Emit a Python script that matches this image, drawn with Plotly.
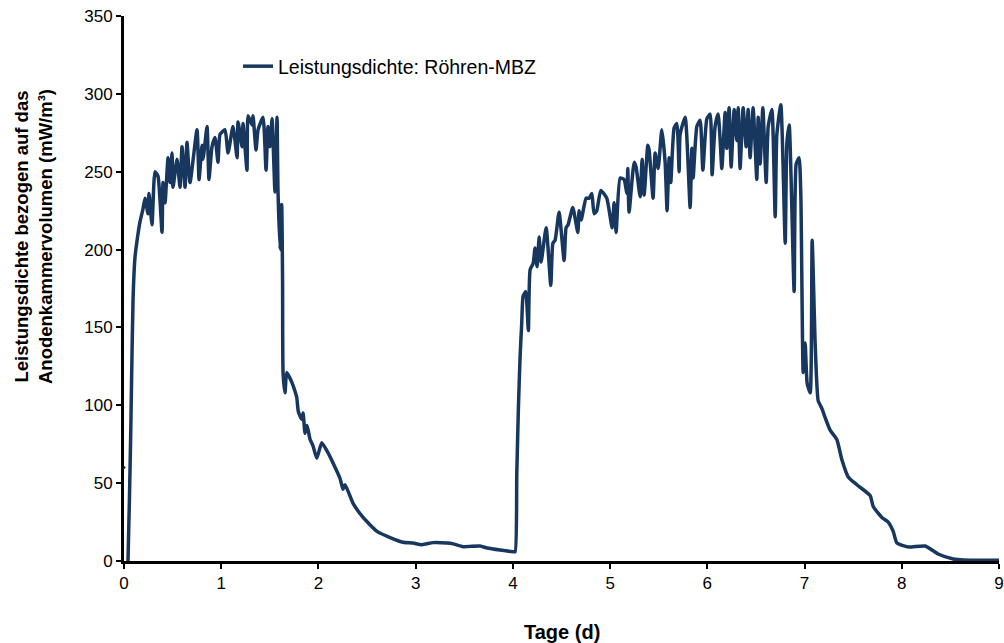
import plotly.graph_objects as go

# Data (days, power density mW/m^3)
start_day = [0.0]
start_val = [60]

days = [0.041, 0.056, 0.068, 0.078, 0.093, 0.113, 0.144, 0.165, 0.195, 0.216, 0.247, 0.257, 0.288,
        0.319, 0.350, 0.391, 0.401, 0.422, 0.453, 0.473, 0.494, 0.504, 0.545, 0.576, 0.597,
        0.628, 0.648, 0.679, 0.751, 0.772, 0.802, 0.813, 0.854, 0.874, 0.905, 0.936, 0.967,
        0.988, 1.039, 1.070, 1.121, 1.163, 1.173, 1.214, 1.224, 1.265, 1.276, 1.317, 1.327,
        1.358, 1.379, 1.430, 1.461, 1.481, 1.502, 1.523, 1.553, 1.574, 1.584, 1.605, 1.622,
        1.631, 1.636, 1.656, 1.674, 1.725, 1.759, 1.777, 1.793, 1.828, 1.842, 1.862, 1.883,
        1.914, 1.944, 1.983, 2.034, 2.085, 2.150, 2.222, 2.253, 2.274, 2.356, 2.459, 2.603,
        2.737, 2.870, 2.973, 3.066, 3.179, 3.323, 3.385, 3.488, 3.663, 3.735, 3.868, 4.002,
        4.023, 4.040, 4.057, 4.074, 4.091, 4.105, 4.132, 4.159, 4.177, 4.208, 4.228, 4.249,
        4.270, 4.290, 4.342, 4.390, 4.411, 4.434, 4.475, 4.527, 4.547, 4.568, 4.616, 4.668,
        4.681, 4.702, 4.753, 4.784, 4.812, 4.835, 4.863, 4.904, 4.966, 5.021, 5.041, 5.062,
        5.103, 5.144, 5.172, 5.182, 5.195, 5.247, 5.267, 5.309, 5.329, 5.350, 5.388, 5.401,
        5.442, 5.463, 5.494, 5.532, 5.566, 5.586, 5.607, 5.624, 5.658, 5.686, 5.710, 5.720,
        5.772, 5.823, 5.841, 5.854, 5.892, 5.926, 5.954, 5.995, 6.029, 6.049, 6.080, 6.111,
        6.132, 6.149, 6.183, 6.200, 6.224, 6.245, 6.276, 6.303, 6.317, 6.337, 6.368, 6.399,
        6.420, 6.440, 6.471, 6.509, 6.523, 6.543, 6.571, 6.605, 6.626, 6.664, 6.698, 6.715,
        6.756, 6.801, 6.818, 6.842, 6.893, 6.914, 6.944, 6.962, 6.986, 7.006, 7.027, 7.058,
        7.078, 7.109, 7.140, 7.178, 7.212, 7.263, 7.332, 7.384, 7.449, 7.538, 7.675, 7.706,
        7.795, 7.860, 7.912, 7.950, 8.066, 8.241, 8.374, 8.529, 8.632, 9.0]

power = [0, 40, 78, 116, 168, 195, 210, 218, 226, 233, 223, 236, 216,
         250, 247, 211, 243, 230, 259, 243, 262, 240, 258, 240, 266,
         240, 269, 243, 277, 245, 267, 258, 279, 245, 266, 272, 256,
         274, 277, 262, 279, 259, 282, 266, 281, 251, 286, 280, 286,
         264, 277, 285, 251, 279, 266, 284, 237, 285, 238, 200, 229,
         180, 121, 108, 121, 115, 109, 105, 96, 91, 95, 82, 87,
         78, 74, 66, 76, 71, 63, 53, 46, 49, 37, 28, 19,
         15, 12, 11.5, 10.5, 11.8, 11.5, 11, 9.2, 9.6, 8.3, 7, 6,
         6, 56, 99, 131, 153, 170, 173, 148, 187, 191, 201, 189,
         208, 192, 214, 177, 204, 206, 224, 193, 214, 216, 227, 211,
         225, 219, 233, 233, 236, 223, 225, 238, 233, 214, 230, 211,
         246, 245, 236, 252, 224, 256, 253, 234, 258, 235, 267, 264,
         233, 262, 252, 277, 256, 225, 259, 243, 278, 281, 250, 274,
         285, 227, 265, 246, 279, 283, 251, 284, 287, 248, 279, 287,
         270, 252, 288, 265, 291, 253, 290, 270, 291, 252, 291, 266,
         290, 259, 291, 245, 285, 255, 291, 243, 279, 290, 221, 274,
         293, 204, 268, 280, 173, 255, 259, 234, 121, 140, 114, 108,
         206, 140, 103, 98, 92, 84, 78, 65, 54, 49, 42, 35,
         28, 25, 19, 11.5, 9, 9.6, 4.5, 1.3, 0.6, 0.5]

x_ticks = [0, 1, 2, 3, 4, 5, 6, 7, 8, 9]
y_ticks = [0, 50, 100, 150, 200, 250, 300, 350]

LINE = "#18375f"
FONT = "Liberation Sans, Arial, sans-serif"

fig = go.Figure()
fig.add_trace(go.Scatter(x=days, y=power, mode="lines",
                         line=dict(color=LINE, width=3.5, shape="spline", smoothing=0.5),
                         name="Leistungsdichte: Röhren-MBZ"))
fig.add_trace(go.Scatter(x=start_day, y=start_val, mode="markers",
                         marker=dict(color=LINE, size=3), showlegend=False,
                         cliponaxis=False))

fig.update_layout(
    width=1004, height=643, autosize=False,
    margin=dict(l=124, r=5, t=16, b=82, autoexpand=False),
    paper_bgcolor="white", plot_bgcolor="white",
    font=dict(family=FONT, size=17, color="black"),
    showlegend=True,
    legend=dict(x=(238 - 124) / 875, y=(561 - 47) / 545, xanchor="left", yanchor="top",
                bgcolor="rgba(0,0,0,0)", font=dict(size=19.5, family=FONT, color="black")),
    xaxis=dict(range=[0, 9], tickvals=x_ticks, ticks="outside", ticklen=5, tickwidth=1.5,
               tickcolor="black", showline=True, linecolor="black", linewidth=3,
               showgrid=False, zeroline=False, tickfont=dict(size=17), automargin=False),
    yaxis=dict(range=[0, 350], tickvals=y_ticks, ticks="outside", ticklen=5, tickwidth=1.5,
               tickcolor="black", showline=True, linecolor="black", linewidth=3,
               showgrid=False, zeroline=False, tickfont=dict(size=17), automargin=False),
    annotations=[
        dict(text="<b>Tage (d)</b>", x=0.5, xref="paper", y=-(632 - 561) / 545, yref="paper",
             xanchor="center", yanchor="middle", showarrow=False,
             font=dict(size=20, family=FONT, color="black")),
        dict(text="<b>Leistungsdichte bezogen auf das<br>Anodenkammervolumen (mW/m³)</b>",
             x=(34 - 124) / 875, xref="paper", y=(561 - 237) / 545, yref="paper",
             xanchor="center", yanchor="middle", textangle=-90, showarrow=False,
             font=dict(size=18.5, family=FONT, color="black")),
    ],
)

fig.write_html("out.html")
